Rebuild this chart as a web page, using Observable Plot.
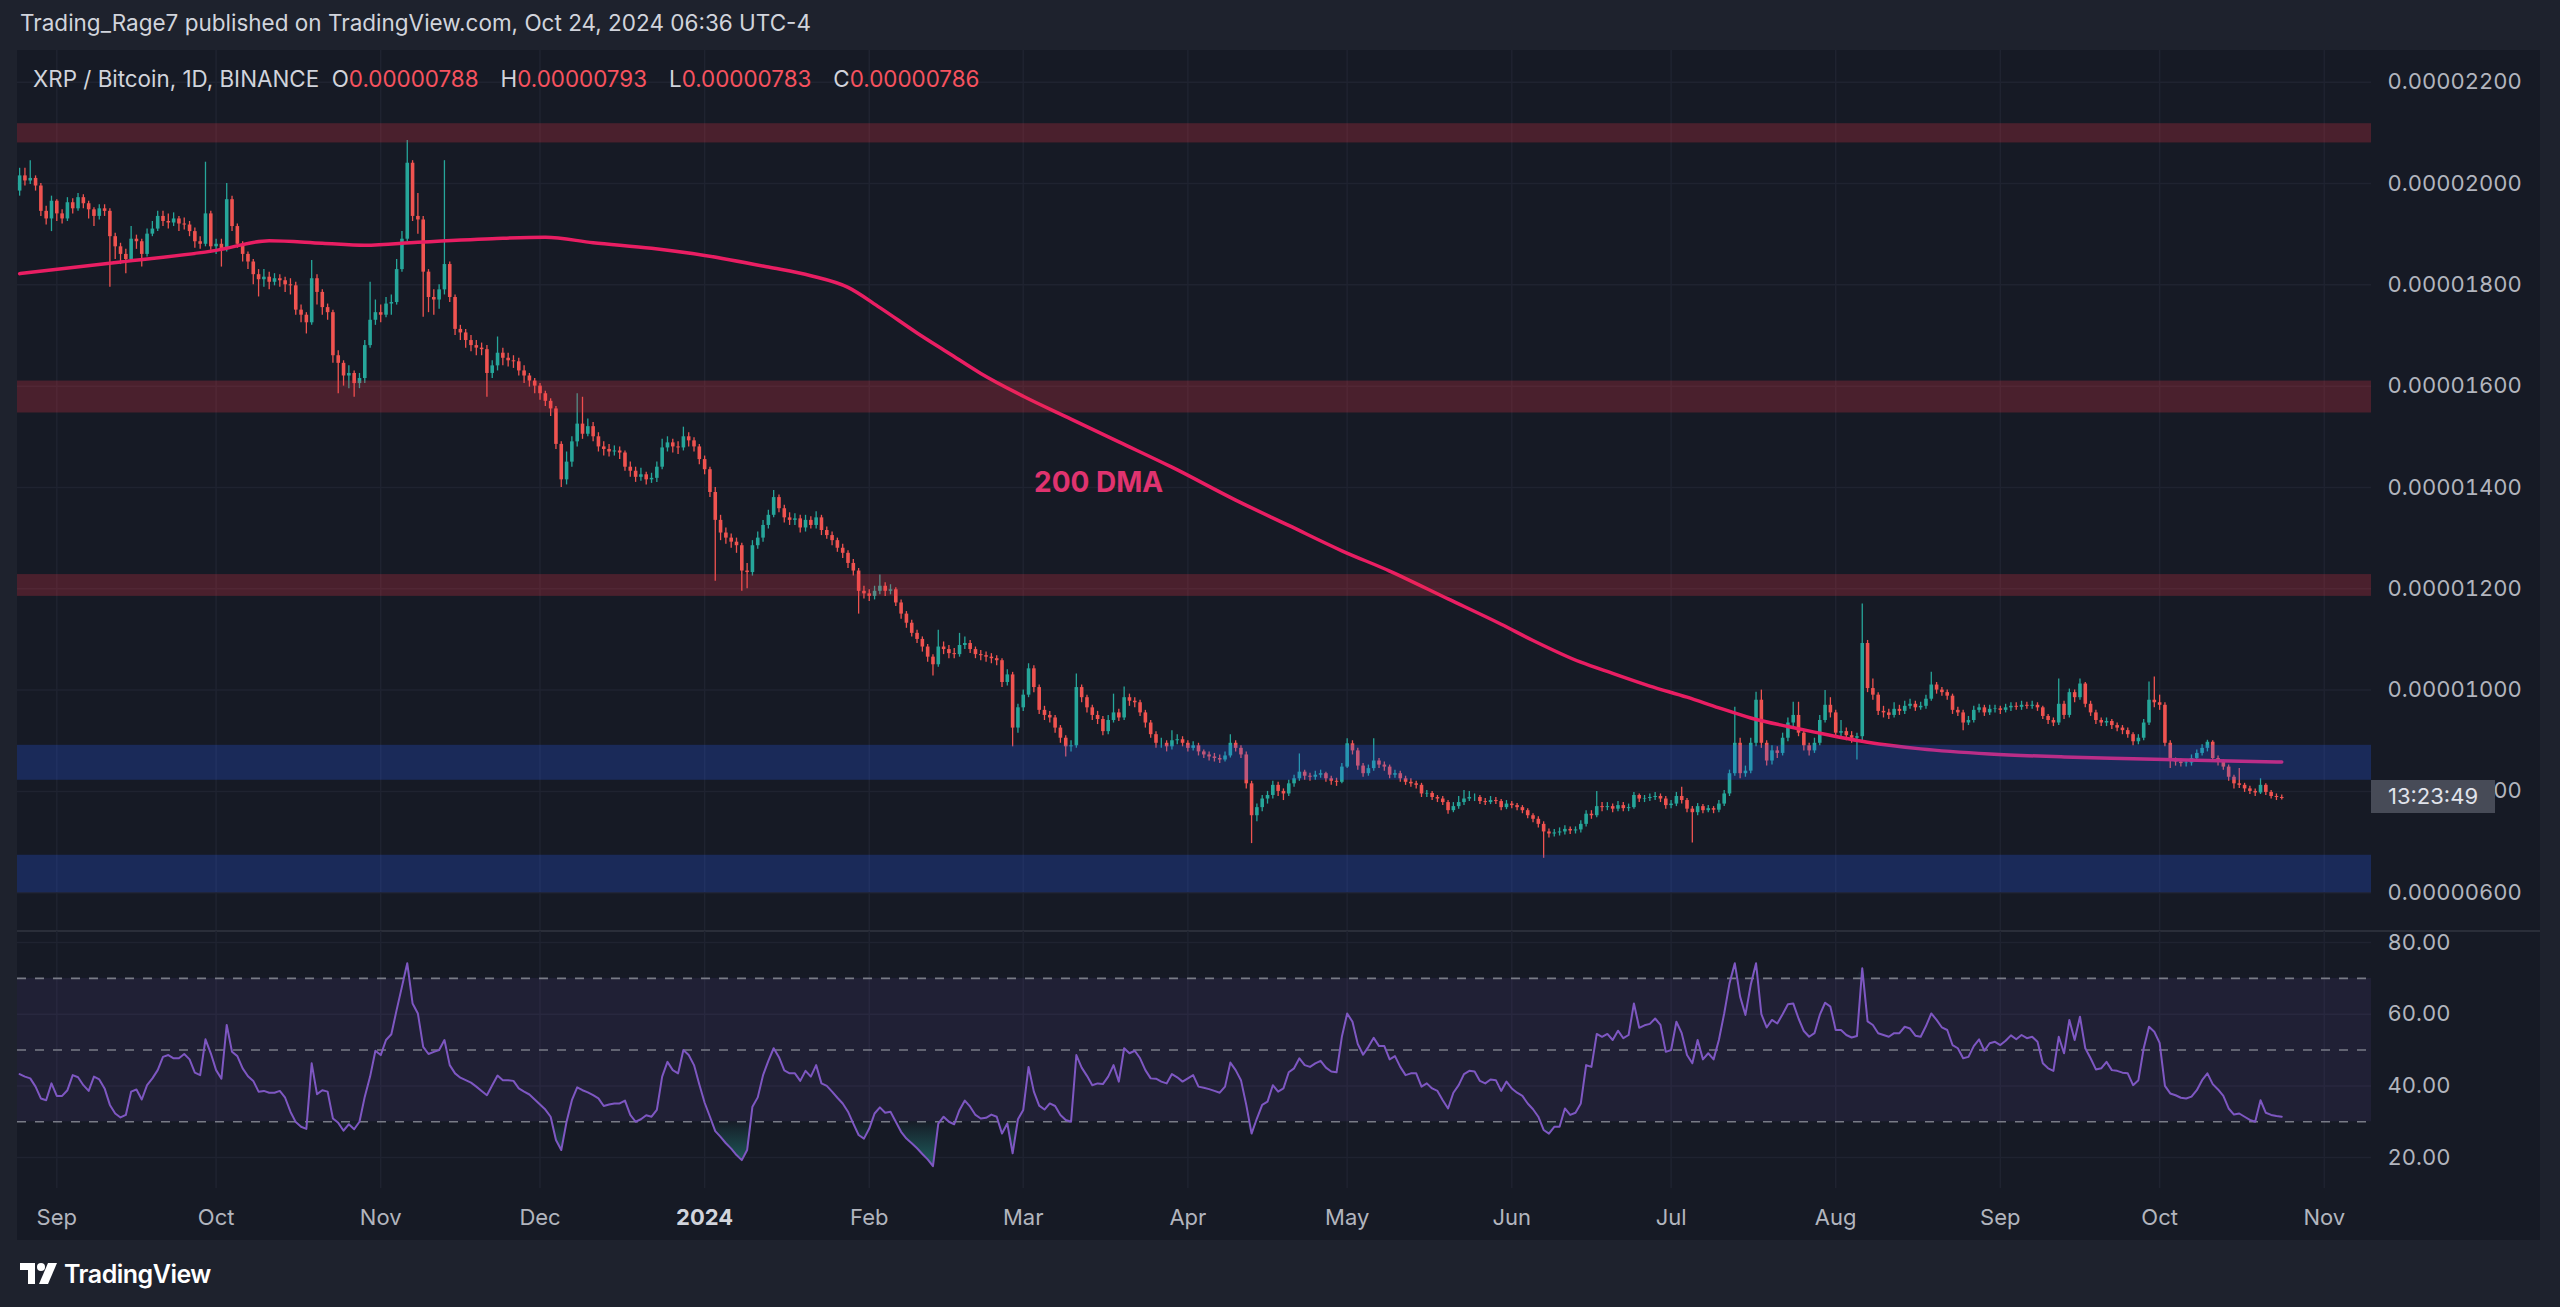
<!DOCTYPE html>
<html><head><meta charset="utf-8">
<script src="https://cdn.jsdelivr.net/npm/d3@7"></script>
<script src="https://cdn.jsdelivr.net/npm/@observablehq/plot@0.6"></script>
<style>
html,body{margin:0;padding:0;width:2560px;height:1307px;overflow:hidden;background:#1e222d;font-family:Inter,"Noto Sans",sans-serif;}
.abs{position:absolute;}
#hdr{left:20px;top:9px;font-size:22.5px;color:#d1d4dc;white-space:nowrap;}
#frame{left:17px;top:50px;width:2523px;height:1190px;background:#161a25;overflow:hidden;}
#main{left:0;top:0;}
#rsiw{left:0;top:881px;}
#legend{left:16px;top:15px;font-size:22.4px;color:#d1d4dc;white-space:nowrap;}
#legend .v{color:#f7525f;margin-right:22px;}
#sep{left:0;top:880px;width:2523px;height:2px;background:#2a2e39;}
#cd{left:2354px;top:730px;width:124px;height:33px;background:#474b57;color:#e0e3eb;font-size:22px;line-height:33px;text-align:center;}
#footer{left:20px;top:1259px;color:#ffffff;font-size:25px;font-weight:600;display:flex;align-items:center;gap:6px;letter-spacing:-0.5px;}
</style></head><body>
<div id="hdr" class="abs">Trading_Rage7 published on TradingView.com, Oct 24, 2024 06:36 UTC-4</div>
<div id="frame" class="abs">
  <div id="main" class="abs"></div>
  <div id="sep" class="abs"></div>
  <div id="rsiw" class="abs"></div>
  <div id="legend" class="abs">XRP / Bitcoin, 1D, BINANCE&nbsp;&nbsp;O<span class="v">0.00000788</span>H<span class="v">0.00000793</span>L<span class="v">0.00000783</span>C<span class="v">0.00000786</span></div>
  <div id="cd" class="abs">13:23:49</div>
</div>
<div id="footer" class="abs"><svg width="38" height="22" viewBox="0 0 38 22"><path d="M0 0h15v21H8V7H0z" fill="#fff"/><circle cx="21" cy="4" r="4" fill="#fff"/><path d="M28 0h9l-9 21h-9z" fill="#fff"/></svg><span>TradingView</span></div>
<script>
// ---------- data (prices in 1e-8 BTC, daily candles from firstDay) ----------
const firstDay = "2023-08-25";
const firstOpen = 1985;
const close = [
2015,2005,2010,1995,1945,1930,1965,1940,1930,1962,
1950,1972,1960,1948,1935,1950,1945,1895,1875,1860,
1850,1890,1885,1860,1900,1910,1935,1925,1922,1930,
1920,1918,1905,1885,1880,1940,1875,1880,1870,1968,
1915,1880,1860,1845,1820,1810,1815,1805,1812,1808,
1800,1798,1750,1740,1725,1812,1785,1755,1745,1660,
1645,1620,1625,1605,1615,1680,1730,1745,1740,1762,
1765,1830,1890,2040,1935,1928,1825,1775,1770,1790,
1840,1775,1712,1705,1690,1680,1675,1672,1625,1640,
1665,1655,1650,1648,1630,1620,1610,1600,1585,1570,
1555,1485,1415,1450,1490,1525,1505,1520,1500,1480,
1475,1470,1472,1468,1440,1432,1420,1425,1415,1418,
1440,1478,1488,1480,1478,1500,1492,1480,1455,1435,
1390,1335,1310,1300,1292,1285,1235,1232,1285,1300,
1325,1345,1380,1358,1340,1335,1338,1320,1335,1325,
1340,1315,1305,1295,1280,1270,1250,1235,1195,1190,
1185,1195,1205,1195,1198,1172,1150,1132,1112,1100,
1085,1065,1050,1085,1080,1072,1070,1088,1092,1080,
1070,1068,1065,1062,1058,1015,1030,925,965,990,
1042,1005,960,950,945,925,905,888,890,1005,
985,965,950,942,918,940,955,945,985,978,
975,955,935,912,895,895,888,900,902,895,
885,890,878,872,868,865,862,870,895,885,
872,815,752,768,785,792,812,800,795,815,
825,838,830,828,832,835,825,820,818,848,
894,880,850,835,845,860,852,848,832,835,
825,818,815,812,795,796,788,785,778,762,
770,778,785,788,788,780,778,782,780,768,
775,772,768,762,752,745,735,720,716,718,
720,725,722,724,735,755,752,770,768,770,
765,772,766,768,792,785,786,788,790,785,
772,775,790,782,765,758,770,762,766,763,
775,795,835,895,835,840,895,980,895,860,
880,875,905,935,950,915,890,880,895,940,
970,955,915,918,910,905,908,1092,1003,990,
958,955,950,962,958,968,972,965,968,982,
1010,1000,995,988,960,955,935,940,960,965,
955,962,963,960,965,968,966,970,968,970,
965,948,940,935,972,950,995,985,1012,972,
955,940,935,938,930,925,920,912,898,905,
935,980,975,970,895,860,858,855,856,865,
875,885,897,865,858,848,828,815,812,805,
800,797,812,798,790,788,786];
const high = [
2030,2030,2045,2015,2000,1955,1975,1968,1948,1972,
1970,1980,1978,1965,1952,1958,1958,1950,1902,1882,
1870,1915,1898,1890,1910,1925,1945,1945,1940,1942,
1935,1932,1925,1912,1895,2042,1945,1890,1890,2000,
1975,1920,1885,1865,1850,1830,1830,1825,1822,1820,
1815,1812,1805,1760,1745,1848,1820,1790,1762,1750,
1670,1650,1640,1630,1625,1690,1805,1770,1760,1775,
1780,1850,1905,2085,2045,1980,1935,1830,1790,1800,
2045,1845,1780,1720,1712,1700,1690,1685,1680,1650,
1697,1675,1665,1660,1655,1640,1625,1615,1605,1590,
1575,1560,1490,1470,1500,1585,1578,1535,1528,1508,
1490,1485,1482,1480,1472,1450,1440,1438,1430,1428,
1450,1495,1500,1495,1490,1519,1508,1498,1485,1462,
1440,1400,1345,1320,1308,1300,1290,1250,1295,1312,
1335,1355,1394,1385,1365,1350,1348,1345,1345,1342,
1352,1345,1322,1312,1300,1288,1275,1258,1240,1205,
1198,1205,1227,1212,1208,1202,1178,1155,1138,1118,
1105,1090,1070,1118,1095,1088,1082,1112,1105,1098,
1085,1078,1075,1072,1068,1062,1040,1035,972,1000,
1052,1048,1010,968,958,950,930,910,900,1032,
1010,990,970,958,948,950,992,962,1006,992,
985,980,960,940,918,905,900,920,912,908,
900,898,895,882,878,875,872,878,912,900,
890,878,820,775,792,800,820,818,805,822,
832,874,842,836,840,842,838,830,826,855,
904,900,885,855,852,904,865,858,852,842,
840,830,825,820,816,802,800,792,790,782,
778,790,802,800,795,792,786,790,788,784,
782,780,776,772,766,756,750,740,726,725,
728,732,730,730,742,762,762,800,778,778,
775,780,778,775,798,795,792,795,798,795,
790,782,798,808,786,770,776,774,772,770,
782,802,842,966,905,850,905,996,1000,900,
890,888,915,945,976,976,920,895,905,950,
999,985,960,940,925,918,915,1170,1098,1022,
995,968,962,975,970,978,982,978,976,990,
1035,1015,1005,1000,992,966,960,948,968,972,
970,970,970,968,972,975,975,978,976,978,
975,968,952,945,1022,978,1002,1000,1022,1015,
978,960,945,945,942,935,930,925,916,912,
942,1016,1026,990,975,900,866,864,862,872,
882,892,901,900,870,862,852,832,845,816,
810,805,825,815,802,795,793];
const low = [
1975,1995,1998,1985,1935,1918,1905,1925,1920,1925,
1940,1945,1950,1930,1915,1928,1935,1795,1850,1840,
1822,1845,1870,1835,1855,1895,1905,1915,1910,1915,
1905,1908,1895,1872,1870,1875,1868,1860,1835,1865,
1905,1872,1845,1830,1800,1776,1795,1790,1798,1795,
1785,1780,1740,1725,1703,1720,1760,1740,1730,1645,
1585,1600,1595,1578,1595,1605,1675,1720,1725,1735,
1740,1760,1825,1885,1925,1900,1736,1745,1740,1752,
1780,1765,1700,1690,1675,1668,1660,1660,1578,1615,
1630,1640,1638,1635,1620,1605,1598,1585,1572,1560,
1540,1475,1400,1405,1440,1480,1495,1500,1490,1470,
1462,1460,1462,1455,1432,1420,1410,1412,1405,1408,
1410,1435,1470,1468,1465,1472,1480,1470,1445,1425,
1380,1215,1295,1288,1280,1270,1195,1200,1225,1278,
1292,1318,1340,1350,1330,1325,1325,1310,1312,1318,
1318,1305,1298,1285,1272,1260,1240,1225,1150,1180,
1175,1178,1188,1185,1188,1165,1140,1122,1105,1092,
1075,1055,1028,1045,1070,1062,1062,1065,1080,1072,
1062,1058,1055,1052,1048,1005,1008,888,915,958,
985,995,952,940,935,915,895,868,878,885,
975,955,940,932,910,912,935,938,940,968,
965,948,925,905,885,885,878,882,892,888,
878,880,870,865,860,858,855,858,866,878,
865,805,697,740,760,775,785,790,782,790,
808,820,822,820,822,826,818,812,810,815,
845,872,842,828,830,840,845,840,825,826,
818,812,808,805,788,788,782,778,772,755,
758,765,772,780,780,774,772,774,774,762,
764,766,762,756,746,738,728,668,708,710,
712,714,715,716,718,730,745,748,760,762,
758,760,760,760,765,778,778,780,782,778,
765,766,770,775,758,698,752,756,758,756,
758,770,790,830,825,828,835,888,885,850,
852,865,870,898,928,908,880,870,875,890,
935,945,905,908,900,895,862,900,995,980,
950,945,942,945,950,952,962,958,960,962,
978,992,988,980,952,948,920,930,935,955,
948,950,955,952,955,958,960,960,962,962,
958,942,932,928,930,942,945,975,980,965,
948,932,928,928,922,918,912,905,890,892,
900,930,965,960,888,845,850,848,848,850,
860,870,878,858,850,842,820,805,806,798,
794,790,794,792,785,782,783];
const rsi = [
43.3,42.6,42.1,39.8,36.5,36,40.7,37.2,37.2,38.8,
43,42.4,40.2,38.6,42.6,41.8,39.3,34.7,32.3,31.2,
31.9,38.4,39,36.2,40.2,42.1,44.4,48.1,48.6,47.7,
47.7,48.9,47.4,43.7,43,53,49.1,44.4,42,57,
49.5,48.3,44.9,42.7,41.4,38.4,38.6,38.1,38.1,38.6,
36.7,32.8,29.9,28.6,28,46.3,37.7,38.8,38.4,30.9,
29.7,27.5,29.3,27.9,30,37,42.6,49.8,48.6,52.8,
54.4,61.2,67.7,74.2,63,60.2,50.9,48.9,49.5,50,
52.8,45.8,43.5,42.3,41.6,40.9,39.8,38.6,37.4,40.2,
42.9,41.6,41.6,41.4,39.3,38.4,37.6,36.2,34.8,33.4,
31.4,24.9,22.1,30,36,39.6,38.8,38.2,37.4,36.5,
34.4,34.8,35.1,35.1,35.9,31.9,30,30.7,31.8,31.4,
33.3,42.6,46.7,44.4,43.5,50,48.6,45.8,40.4,35.3,
31.4,27.4,25.8,24,22.5,20.7,19.3,22.1,34.2,36.8,
43,47,50.5,48,44.3,43.5,43.5,41.4,44.2,42.6,
45.8,40.7,40,38.4,36.7,35.1,32.8,29.5,26.3,25.3,
28.1,32.3,34,32.5,32.8,30,27.2,25.3,24,22.6,
21,19.5,17.6,29.5,31.4,30,29.3,33.3,35.9,34.2,
31.9,30.9,31.1,32,31.4,26.7,29.5,21.2,30.7,33.3,
45.3,38.4,34.5,33.4,35.1,34.4,31.9,30.5,30,48.6,
45.1,42.8,40.2,40.7,40.5,42.6,45.8,41.2,50.5,49.1,
49.8,47.7,44.4,42.1,42,41.2,40.7,43.3,42.4,41.2,
42.1,43,39.8,39.5,39.1,38.6,38.1,39.8,46.5,44.4,
41.6,34.7,26.7,30.9,34.7,35.6,40.2,38.4,39.3,43.8,
44.9,47.7,45.8,45.3,46.3,47,45.1,44,43.8,53.7,
60.2,57.9,51.7,48.7,50.9,53.4,51.1,51.1,47.4,48.3,
45.3,43,43.5,43.5,39.8,40.7,39.3,38.6,36,33.7,
38.1,40.2,43.3,44.2,44,41.4,40.7,41.8,41.6,38.6,
41.2,39.3,38.1,37.2,35.1,33.5,31.4,27.7,26.7,28.6,
28.6,33.7,31.9,32.5,35.1,45.8,45.3,54.5,53.7,54.5,
52.8,55.4,53.3,54.2,63,56.2,56.9,57.3,58.8,57,
49.5,50,57.9,54.7,48.6,46.3,52.8,47.4,49.1,47.4,
52.8,60.2,68.6,74.2,64.9,59.8,68.2,74.2,60,56.3,
58.4,57.4,60,62.8,63,58.8,55.3,53.7,54.7,59.8,
63.2,62.1,55.6,55.6,54.2,53.5,53.9,72.8,58,57,
54.7,54.2,53.7,54.7,54.7,56.5,56,54,53.7,56.7,
60.2,58.4,56.3,55.6,51.4,50.5,47.7,48.1,51.1,53,
49.8,51.9,52.3,51.4,52.6,54.1,53,54.2,53.3,53.7,
52.3,46.3,44.9,44.2,53.7,49.1,58.4,52.8,59.3,50.5,
47.7,44.6,44.9,46.7,44.4,44.2,43.7,43.5,40.2,41.6,
50.5,56.5,55.1,52,40,37.9,37.4,36.7,36.5,37,
38.8,41.6,43.5,40.5,39,37.2,33.7,32,32.3,31.4,
30.5,30,36,32.5,31.9,31.6,31.4];
// 200-day moving average, read at intervals
const dmaDates = ["2023-08-25","2023-09-13","2023-10-01","2023-10-11","2023-10-21","2023-10-29","2023-11-08","2023-11-22","2023-12-02","2023-12-11","2023-12-22","2024-01-01","2024-01-13","2024-01-21","2024-01-28","2024-02-03","2024-02-10","2024-02-16","2024-02-22","2024-03-01","2024-03-10","2024-03-19","2024-03-29","2024-04-10","2024-04-20","2024-04-30","2024-05-09","2024-05-20","2024-05-30","2024-06-05","2024-06-14","2024-06-20","2024-06-27","2024-07-04","2024-07-10","2024-07-16","2024-07-23","2024-07-28","2024-08-07","2024-08-17","2024-08-30","2024-09-13","2024-09-26","2024-10-10","2024-10-24"];
const dmaValues = [1822,1845,1868,1887,1882,1878,1884,1891,1894,1883,1872,1858,1835,1818,1795,1755,1705,1665,1625,1580,1535,1490,1440,1375,1325,1275,1235,1180,1130,1098,1055,1033,1008,986,965,945,928,917,897,884,874,868,864.5,861,858];
// horizontal zones drawn on the chart
const zoneLow  = [2080,1547,1185,822,600];
const zoneHigh = [2118,1610,1228,891,674];
const zoneKind = ["resistance","resistance","resistance","support","support"];
const priceTicks = [600,800,1000,1200,1400,1600,1800,2000,2200];
const rsiTicks = [20,40,60,80];
const rsiLevels = [70,50,30];
const monthStarts = ["2023-09-01","2023-10-01","2023-11-01","2023-12-01","2024-01-01","2024-02-01","2024-03-01","2024-04-01","2024-05-01","2024-06-01","2024-07-01","2024-08-01","2024-09-01","2024-10-01","2024-11-01"];
const monthLabels = ["Sep","Oct","Nov","Dec","2024","Feb","Mar","Apr","May","Jun","Jul","Aug","Sep","Oct","Nov"];

// ---------- build ----------
const DAY = 864e5;
const jan1 = Date.UTC(2024,0,1);
const xDomain = [new Date(jan1 - 129.4*DAY), new Date(jan1 + 313.9*DAY)];
const start = new Date(firstDay + "T00:00:00Z");
const candles = close.map((c,i)=>({date:new Date(+start + i*DAY), open: i===0 ? firstOpen : close[i-1], close:c, high:high[i], low:low[i]}));
const upC = candles.filter(d=>d.close>=d.open), dnC = candles.filter(d=>d.close<d.open);
const dma = dmaDates.map((s,i)=>({date:new Date(s+"T00:00:00Z"), v:dmaValues[i]}));
const zones = zoneLow.map((lo,i)=>({lo, hi:zoneHigh[i], kind:zoneKind[i]}));
const months = monthStarts.map((s,i)=>({date:new Date(s+"T00:00:00Z"), label:monthLabels[i]}));
const rsiData = rsi.map((r,i)=>({date:new Date(+start + i*DAY), r}));
const UP="#26a69a", DOWN="#ef5350", GRID="#1f2330";
const W=2523, MR=169;
const spanX = {x1: ()=>xDomain[0], x2: ()=>xDomain[1]};
const baseStyle = {background:"transparent", color:"#b2b5be", fontSize:"22px", fontFamily:"Inter, 'Noto Sans', sans-serif", overflow:"visible"};

const mainChart = Plot.plot({
  width: W, height: 881, marginLeft: 0, marginRight: MR, marginTop: 0, marginBottom: 0,
  style: baseStyle,
  x: {type:"utc", domain:xDomain, axis:null, label:null},
  y: {domain:[523.5, 2262.5], axis:null, label:null},
  marks: [
    Plot.ruleX(months, {x:"date", stroke:GRID, strokeWidth:1.5}),
    Plot.ruleY(priceTicks, {stroke:GRID, strokeWidth:1.5}),
    Plot.ruleX(upC, {x:"date", y1:"low", y2:"high", stroke:UP, strokeWidth:1.3}),
    Plot.ruleX(dnC, {x:"date", y1:"low", y2:"high", stroke:DOWN, strokeWidth:1.3}),
    Plot.ruleX(upC, {x:"date", y1:"open", y2:"close", stroke:UP, strokeWidth:3.6}),
    Plot.ruleX(dnC, {x:"date", y1:"open", y2:"close", stroke:DOWN, strokeWidth:3.6}),
    Plot.line(dma, {x:"date", y:"v", stroke:"#e91e63", strokeWidth:3.5, curve:"monotone-x"}),
    Plot.rect(zones.filter(z=>z.kind==="resistance"), {...spanX, y1:"lo", y2:"hi", fill:"#f23645", fillOpacity:0.24}),
    Plot.rect(zones.filter(z=>z.kind==="support"), {...spanX, y1:"lo", y2:"hi", fill:"#2962ff", fillOpacity:0.24}),
    Plot.text([0], {x:()=>new Date(jan1 + 74.2*DAY), y:()=>1408, text:()=>"200 DMA", fill:"#e0336f", fontSize:28, fontWeight:"bold"}),
    Plot.axisY(priceTicks, {anchor:"right", tickSize:0, tickPadding:16, label:null, tickFormat:d=>(d/1e8).toFixed(8)})
  ]
});
document.getElementById("main").appendChild(mainChart);

const NS = "http://www.w3.org/2000/svg";
const rsiChart = Plot.plot({
  width: W, height: 309, marginLeft: 0, marginRight: MR, marginTop: 0, marginBottom: 52,
  style: baseStyle,
  x: {type:"utc", domain:xDomain, axis:null, label:null},
  y: {domain:[11.38, 83.07], axis:null, label:null},
  marks: [
    (index, scales) => {
      const defs = document.createElementNS(NS, "defs");
      const y = scales.y;
      defs.innerHTML =
        `<linearGradient id="osGrad" gradientUnits="userSpaceOnUse" x1="0" x2="0" y1="${y(30)}" y2="${y(12)}">
           <stop offset="0" stop-color="#26a69a" stop-opacity="0.02"/><stop offset="1" stop-color="#26a69a" stop-opacity="0.7"/></linearGradient>
         <linearGradient id="obGrad" gradientUnits="userSpaceOnUse" x1="0" x2="0" y1="${y(70)}" y2="${y(88)}">
           <stop offset="0" stop-color="#26a69a" stop-opacity="0.02"/><stop offset="1" stop-color="#26a69a" stop-opacity="0.7"/></linearGradient>`;
      return defs;
    },
    Plot.ruleX(months, {x:"date", stroke:GRID, strokeWidth:1.5}),
    Plot.ruleY(rsiTicks, {stroke:GRID, strokeWidth:1.5}),
    Plot.rect([0], {...spanX, y1:()=>30, y2:()=>70, fill:"#7e57c2", fillOpacity:0.1}),
    Plot.ruleY(rsiLevels, {stroke:"#787b86", strokeWidth:1.6, strokeDasharray:"9,9"}),
    Plot.areaY(rsiData, {x:"date", y1:()=>30, y2:d=>Math.min(d.r,30), fill:"url(#osGrad)"}),
    Plot.areaY(rsiData, {x:"date", y1:()=>70, y2:d=>Math.max(d.r,70), fill:"url(#obGrad)"}),
    Plot.line(rsiData, {x:"date", y:"r", stroke:"#7e57c2", strokeWidth:2}),
    Plot.axisY(rsiTicks, {anchor:"right", tickSize:0, tickPadding:16, label:null, tickFormat:d=>d.toFixed(2)}),
    Plot.text(months.filter(m=>!/^\d{4}$/.test(m.label)), {x:"date", text:"label", frameAnchor:"bottom", dy:29, lineAnchor:"middle", fill:"#b2b5be", fontSize:22}),
    Plot.text(months.filter(m=>/^\d{4}$/.test(m.label)), {x:"date", text:"label", frameAnchor:"bottom", dy:29, lineAnchor:"middle", fill:"#d1d4dc", fontSize:22, fontWeight:"bold"})
  ]
});
document.getElementById("rsiw").appendChild(rsiChart);
</script>
</body></html>
